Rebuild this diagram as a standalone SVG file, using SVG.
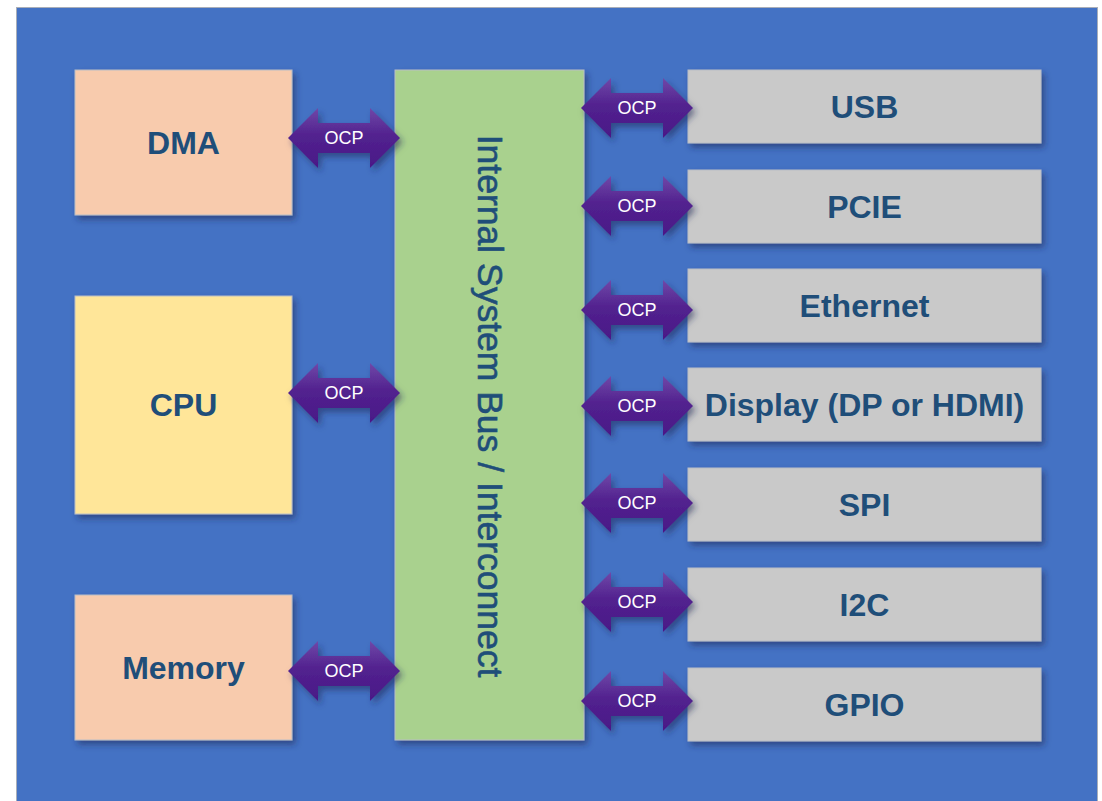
<svg xmlns="http://www.w3.org/2000/svg" xmlns:xlink="http://www.w3.org/1999/xlink" width="1102" height="801" viewBox="0 0 1102 801">
  <defs>
    <linearGradient id="purp" x1="0" y1="0" x2="0" y2="1">
      <stop offset="0" stop-color="#7048A8"/>
      <stop offset="0.45" stop-color="#52228F"/>
      <stop offset="1" stop-color="#4A1887"/>
    </linearGradient>
    <filter id="sh" x="-20%" y="-20%" width="140%" height="150%">
      <feDropShadow dx="3" dy="4" stdDeviation="3" flood-color="#1a2a55" flood-opacity="0.55"/>
    </filter>
    <path id="arr" d="M-56,0 L-26,-30 L-26,-15 L26,-15 L26,-30 L56,0 L26,30 L26,15 L-26,15 L-26,30 Z"/>
    <style>
      .box { stroke: #B9BDC6; stroke-width: 1; filter: url(#sh); }
      .peach { fill: #F8CBAD; }
      .yellow { fill: #FFE699; }
      .gray { fill: #C9C9C9; }
      .bus { fill: #A9D18E; }
      .lbl { font-family: "Liberation Sans", Arial, sans-serif; font-weight: bold; font-size: 32px; fill: #1F4E79; text-anchor: middle; }
      .buslbl { font-family: "Liberation Sans", Arial, sans-serif; font-size: 35.5px; fill: #1F4E79; stroke: #1F4E79; stroke-width: 0.6px; text-anchor: middle; }
      .ocp { font-family: "Liberation Sans", Arial, sans-serif; font-size: 18px; fill: #FFFFFF; text-anchor: middle; }
      .arrow { fill: url(#purp); filter: url(#sh); }
    </style>
  </defs>

  <rect x="0" y="0" width="1102" height="801" fill="#FFFFFF"/>
  <rect id="background" x="16.5" y="7.5" width="1081" height="800" fill="#4472C4" stroke="#A9AEB8" stroke-width="1"/>

  <g id="bus">
    <rect class="box bus" x="395" y="70" width="189" height="670"/>
    <text class="buslbl" transform="translate(478,406) rotate(90)">Internal System Bus / Interconnect</text>
  </g>

  <g id="dma">
    <rect class="box peach" x="75" y="70" width="217" height="145"/>
    <text class="lbl" x="183.5" y="154">DMA</text>
  </g>
  <g id="cpu">
    <rect class="box yellow" x="75" y="296" width="217" height="218"/>
    <text class="lbl" x="183.5" y="416">CPU</text>
  </g>
  <g id="memory">
    <rect class="box peach" x="75" y="595" width="217" height="145"/>
    <text class="lbl" x="183.5" y="679">Memory</text>
  </g>

  <g id="usb">
    <rect class="box gray" x="688" y="70" width="353" height="73"/>
    <text class="lbl" x="864.5" y="118">USB</text>
  </g>
  <g id="pcie">
    <rect class="box gray" x="688" y="170" width="353" height="73"/>
    <text class="lbl" x="864.5" y="218">PCIE</text>
  </g>
  <g id="ethernet">
    <rect class="box gray" x="688" y="269" width="353" height="73"/>
    <text class="lbl" x="864.5" y="317">Ethernet</text>
  </g>
  <g id="display">
    <rect class="box gray" x="688" y="368" width="353" height="73"/>
    <text class="lbl" x="864.5" y="416">Display (DP or HDMI)</text>
  </g>
  <g id="spi">
    <rect class="box gray" x="688" y="468" width="353" height="73"/>
    <text class="lbl" x="864.5" y="516">SPI</text>
  </g>
  <g id="i2c">
    <rect class="box gray" x="688" y="568" width="353" height="73"/>
    <text class="lbl" x="864.5" y="616">I2C</text>
  </g>
  <g id="gpio">
    <rect class="box gray" x="688" y="668" width="353" height="73"/>
    <text class="lbl" x="864.5" y="716">GPIO</text>
  </g>

  <g id="connectors">
    <use class="arrow" href="#arr" xlink:href="#arr" x="344" y="138"/>
    <text class="ocp" x="344" y="144">OCP</text>
    <use class="arrow" href="#arr" xlink:href="#arr" x="344" y="393"/>
    <text class="ocp" x="344" y="399">OCP</text>
    <use class="arrow" href="#arr" xlink:href="#arr" x="344" y="671"/>
    <text class="ocp" x="344" y="677">OCP</text>

    <use class="arrow" href="#arr" xlink:href="#arr" x="637" y="108"/>
    <text class="ocp" x="637" y="114">OCP</text>
    <use class="arrow" href="#arr" xlink:href="#arr" x="637" y="206"/>
    <text class="ocp" x="637" y="212">OCP</text>
    <use class="arrow" href="#arr" xlink:href="#arr" x="637" y="310"/>
    <text class="ocp" x="637" y="316">OCP</text>
    <use class="arrow" href="#arr" xlink:href="#arr" x="637" y="406"/>
    <text class="ocp" x="637" y="412">OCP</text>
    <use class="arrow" href="#arr" xlink:href="#arr" x="637" y="503"/>
    <text class="ocp" x="637" y="509">OCP</text>
    <use class="arrow" href="#arr" xlink:href="#arr" x="637" y="602"/>
    <text class="ocp" x="637" y="608">OCP</text>
    <use class="arrow" href="#arr" xlink:href="#arr" x="637" y="701"/>
    <text class="ocp" x="637" y="707">OCP</text>
  </g>
</svg>
